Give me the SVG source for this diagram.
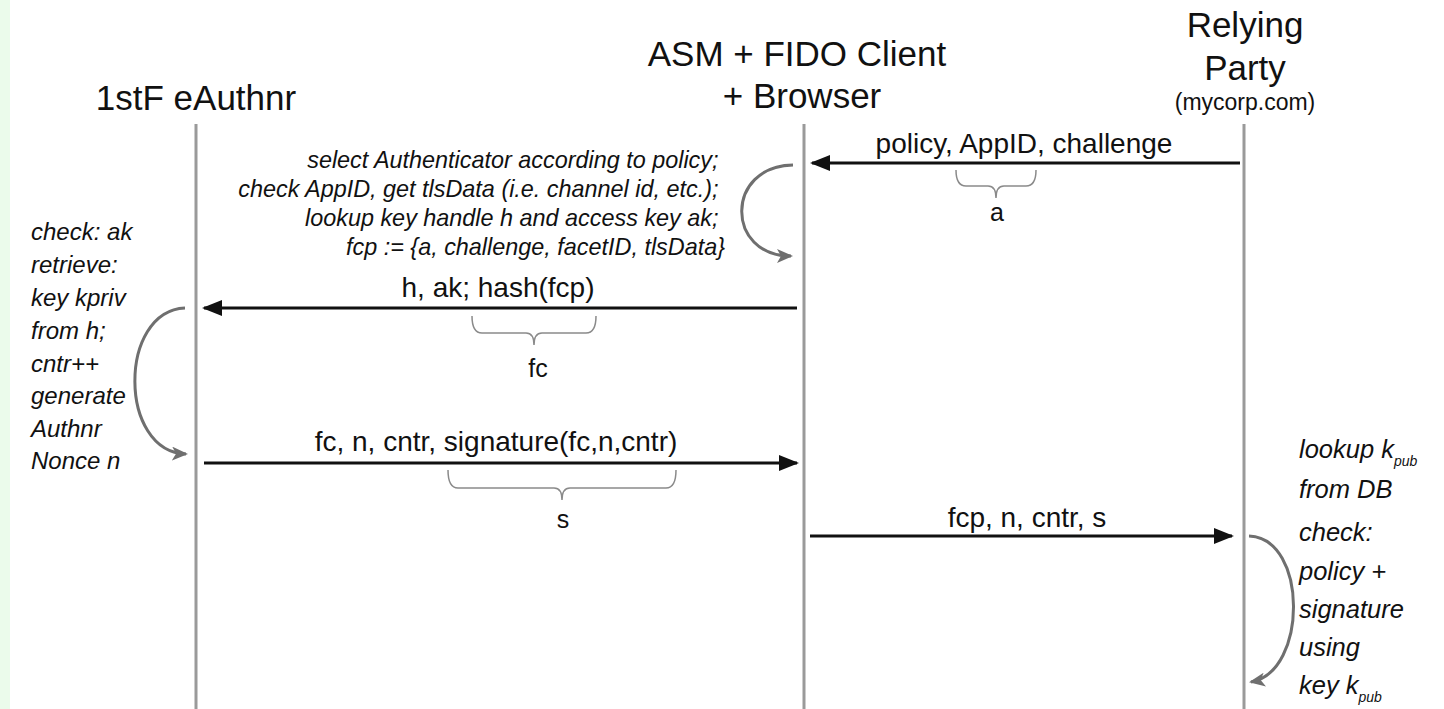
<svg xmlns="http://www.w3.org/2000/svg" width="1444" height="709" viewBox="0 0 1444 709">
  <style>
    text { font-family: "Liberation Sans", Arial, sans-serif; fill: #111; }
    .title { font-size: 35px; text-anchor: middle; }
    .sub { font-size: 23px; text-anchor: middle; }
    .msg { font-size: 28px; text-anchor: middle; }
    .note { font-size: 24px; font-style: italic; }
    .cnote { font-size: 23.4px; font-style: italic; text-anchor: end; }
    .rnote { font-size: 25.5px; font-style: italic; }
    .var { font-size: 25px; text-anchor: middle; }
    .life { stroke: #9a9a9a; stroke-width: 3; fill: none; }
    .arrow { stroke: #111; stroke-width: 3; fill: none; marker-end: url(#head); }
    .self { stroke: #6f6f6f; stroke-width: 3; fill: none; marker-end: url(#selfhead); }
    .brace { stroke: #8a8a8a; stroke-width: 1.5; fill: none; }
  </style>
  <defs>
    <marker id="head" viewBox="0 0 20 16" refX="18" refY="8" markerWidth="20" markerHeight="16" markerUnits="userSpaceOnUse" orient="auto">
      <path d="M0,0 L20,8 L0,16 Z" fill="#111"/>
    </marker>
    <marker id="selfhead" viewBox="0 0 16 14" refX="14" refY="7" markerWidth="16" markerHeight="14" markerUnits="userSpaceOnUse" orient="auto">
      <path d="M0,0 L16,7 L0,14 L4,7 Z" fill="#6f6f6f"/>
    </marker>
  </defs>

  <rect x="0" y="0" width="1444" height="709" fill="#ffffff"/>
  <rect x="0" y="0" width="10" height="709" fill="#ebfbeb"/>

  <!-- participants -->
  <g id="authnr">
    <text class="title" x="196" y="110">1stF eAuthnr</text>
    <line class="life" x1="196" y1="124" x2="196" y2="709"/>
  </g>
  <g id="client">
    <text class="title" x="797" y="66">ASM + FIDO Client</text>
    <text class="title" x="802" y="108">+ Browser</text>
    <line class="life" x1="804" y1="124" x2="804" y2="709"/>
  </g>
  <g id="rp">
    <text class="title" x="1245" y="37">Relying</text>
    <text class="title" x="1245" y="80">Party</text>
    <text class="sub" x="1245" y="110">(mycorp.com)</text>
    <line class="life" x1="1244" y1="124" x2="1244" y2="709"/>
  </g>

  <!-- local processing notes -->
  <g id="client-note">
    <text class="cnote">
      <tspan x="725" y="168">select Authenticator according to policy;</tspan>
      <tspan x="725" y="197">check AppID, get tlsData (i.e. channel id, etc.);</tspan>
      <tspan x="725" y="226">lookup key handle h and access key ak;</tspan>
      <tspan x="725" y="255">fcp := {a, challenge, facetID, tlsData}</tspan>
    </text>
  </g>
  <g id="authnr-note">
    <text class="note">
      <tspan x="31" y="240">check: ak</tspan>
      <tspan x="31" y="273">retrieve:</tspan>
      <tspan x="31" y="306">key kpriv</tspan>
      <tspan x="31" y="339">from h;</tspan>
      <tspan x="31" y="372">cntr++</tspan>
      <tspan x="31" y="404">generate</tspan>
      <tspan x="31" y="437">Authnr</tspan>
      <tspan x="31" y="469">Nonce n</tspan>
    </text>
  </g>
  <g id="rp-note">
    <text class="rnote" x="1299" y="458">lookup k<tspan font-size="14" dy="8">pub</tspan></text>
    <text class="rnote" x="1299" y="498">from DB</text>
    <text class="rnote" x="1299" y="541">check:</text>
    <text class="rnote" x="1299" y="580">policy +</text>
    <text class="rnote" x="1299" y="618">signature</text>
    <text class="rnote" x="1299" y="656">using</text>
    <text class="rnote" x="1299" y="694">key k<tspan font-size="14" dy="8">pub</tspan></text>
  </g>

  <!-- messages and self-calls -->
  <g id="connectors">
    <line class="arrow" x1="1240" y1="163" x2="812" y2="163"/>
    <text class="msg" x="1024" y="153">policy, AppID, challenge</text>
    <path class="brace" d="M956,170 Q956,186 966,186 L988,186 Q996,186 996,198 Q996,186 1004,186 L1026,186 Q1036,186 1036,170"/>
    <text class="var" x="997" y="221">a</text>

    <path class="self" d="M793,165 C725,166 725,256 791,256"/>

    <line class="arrow" x1="797" y1="308" x2="204" y2="308"/>
    <text class="msg" x="498" y="297">h, ak; hash(fcp)</text>
    <path class="brace" d="M472,316 Q472,333 482,333 L526,333 Q534,333 534,345 Q534,333 542,333 L586,333 Q596,333 596,316"/>
    <text class="var" x="538" y="377">fc</text>

    <path class="self" d="M185,308 C118,311 118,452 186,454"/>

    <line class="arrow" x1="204" y1="463" x2="797" y2="463"/>
    <text class="msg" x="496" y="451">fc, n, cntr, signature(fc,n,cntr)</text>
    <path class="brace" d="M448,470 Q448,488 458,488 L554,488 Q562,488 562,500 Q562,488 570,488 L666,488 Q676,488 676,470"/>
    <text class="var" x="563" y="528">s</text>

    <line class="arrow" x1="810" y1="536" x2="1232" y2="536"/>
    <text class="msg" x="1027" y="527">fcp, n, cntr, s</text>

    <path class="self" d="M1249,536 C1308,538 1308,672 1251,682"/>
  </g>
</svg>
